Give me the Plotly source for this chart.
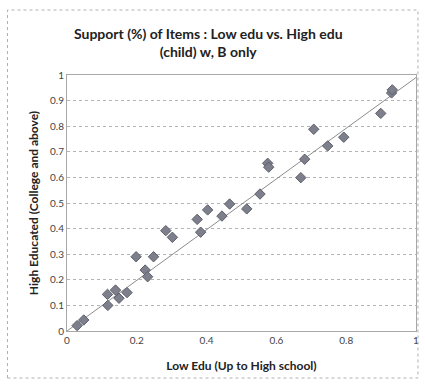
import plotly.graph_objects as go

low_edu = [0.029, 0.048, 0.117, 0.116, 0.139, 0.149, 0.172, 0.198, 0.224, 0.231,
           0.248, 0.283, 0.302, 0.373, 0.383, 0.403, 0.444, 0.466, 0.515, 0.553,
           0.575, 0.578, 0.670, 0.681, 0.707, 0.747, 0.793, 0.899, 0.930, 0.932]
high_edu = [0.021, 0.043, 0.100, 0.143, 0.160, 0.128, 0.150, 0.290, 0.238, 0.212,
            0.290, 0.392, 0.366, 0.436, 0.386, 0.473, 0.449, 0.496, 0.477, 0.535,
            0.655, 0.640, 0.599, 0.671, 0.788, 0.723, 0.757, 0.850, 0.930, 0.942]
trend_x = [0.0, 1.0]
trend_y = [0.0, 0.99]
tick_vals_x = [0, 0.2, 0.4, 0.6, 0.8, 1]
tick_text_x = ["0", "0.2", "0.4", "0.6", "0.8", "1"]
tick_vals_y = [0, 0.1, 0.2, 0.3, 0.4, 0.5, 0.6, 0.7, 0.8, 0.9, 1]
tick_text_y = ["0", "0.1", "0.2", "0.3", "0.4", "0.5", "0.6", "0.7", "0.8", "0.9", "1"]

fig = go.Figure()
fig.add_trace(go.Scatter(x=trend_x, y=trend_y, mode="lines",
                         line=dict(color="#8c8c8c", width=1), showlegend=False,
                         hoverinfo="skip"))
fig.add_trace(go.Scatter(x=low_edu, y=high_edu, mode="markers",
                         marker=dict(symbol="diamond", size=8, color="#7d7f8c",
                                     line=dict(color="#5d5f6a", width=1)),
                         showlegend=False))

grid = dict(showgrid=True, gridcolor="#b4b4b4", griddash="dot", gridwidth=1)
fig.update_layout(
    width=425, height=387,
    margin=dict(l=67, r=6, t=75, b=56),
    paper_bgcolor="white", plot_bgcolor="white",
    font=dict(family="Lato, Open Sans, sans-serif", color="#333333", size=10),
    title=dict(text="<b>Support (%) of Items : Low edu vs. High edu<br>(child) w, B only</b>",
               x=0.49, xanchor="center", y=0.899, yanchor="middle",
               font=dict(size=14, color="#222222")),
    xaxis=dict(range=[0, 1], tickvals=tick_vals_x, ticktext=tick_text_x,
               showgrid=False, zeroline=False, showline=True, linecolor="#a8a8a8",
               mirror=True, ticks="", tickfont=dict(size=10, color="#444444"),
               title=dict(text="<b>Low Edu (Up to High school)</b>",
                          font=dict(size=12, color="#222222"), standoff=16)),
    yaxis=dict(range=[0, 1], tickvals=tick_vals_y, ticktext=tick_text_y,
               zeroline=False, showline=True, linecolor="#a8a8a8", mirror=True,
               ticks="", tickfont=dict(size=10, color="#444444"),
               title=dict(text="<b>High Educated (College and above)</b>",
                          font=dict(size=12, color="#222222"), standoff=8), **grid),
    shapes=[dict(type="rect", xref="paper", yref="paper",
                 x0=-60/352, x1=1 + 2/352, y0=-(378-331)/256, y1=1 + 65/256,
                 line=dict(color="#b0b0b0", width=1, dash="dot"))],
)
fig.write_html("out.html", config={"displayModeBar": False},
               post_script="document.body.style.margin='0';")
